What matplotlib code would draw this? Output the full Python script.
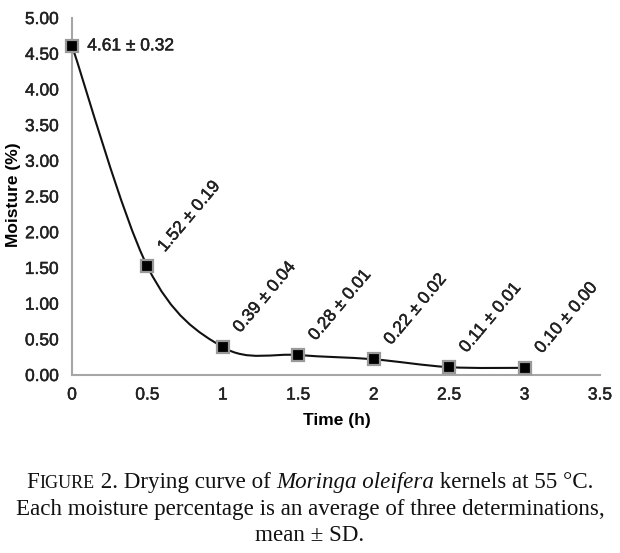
import numpy as np
import matplotlib
matplotlib.use("Agg")
import matplotlib.pyplot as plt
from matplotlib.path import Path
from matplotlib.patches import PathPatch
from matplotlib.font_manager import FontProperties
import matplotlib.patheffects as pe

# ---- data ----
time_h = [0, 0.5, 1, 1.5, 2, 2.5, 3]
moisture = [4.61, 1.52, 0.39, 0.28, 0.22, 0.11, 0.10]
sd = [0.32, 0.19, 0.04, 0.01, 0.02, 0.01, 0.00]
x_ticks = [0, 0.5, 1, 1.5, 2, 2.5, 3, 3.5]
x_tick_labels = ["0", "0.5", "1", "1.5", "2", "2.5", "3", "3.5"]
y_ticks = [0, 0.5, 1, 1.5, 2, 2.5, 3, 3.5, 4, 4.5, 5]
y_tick_labels = ["%.2f" % v for v in y_ticks]

W, H = 620, 553
fig = plt.figure(figsize=(W / 100, H / 100), dpi=100)
ax = fig.add_axes([72 / W, 178 / H, 528 / W, 357 / H])

ax.set_xlim(0, 3.5)
ax.set_ylim(0, 5)

heavy = [pe.withStroke(linewidth=0.35, foreground="#222222")]

# smoothed (Catmull-Rom style bezier, like spreadsheet smoothing)
P = np.column_stack([time_h, moisture])
n = len(P)
verts = [tuple(P[0])]
codes = [Path.MOVETO]
for i in range(n - 1):
    p0 = P[i - 1] if i > 0 else P[i]
    p1 = P[i]
    p2 = P[i + 1]
    p3 = P[i + 2] if i + 2 < n else P[i + 1]
    c1 = p1 + (p2 - p0) / 6.0
    c2 = p2 - (p3 - p1) / 6.0
    verts += [tuple(c1), tuple(c2), tuple(p2)]
    codes += [Path.CURVE4] * 3
ax.add_patch(PathPatch(Path(verts, codes), facecolor="none", edgecolor="#111111",
                       lw=1.5, zorder=2, clip_on=False))

ax.plot(time_h, moisture, linestyle="none", marker="s", markersize=8.5,
        markerfacecolor="black", markeredgecolor="#999999", markeredgewidth=1.6,
        zorder=3, clip_on=False)

lab_font = dict(family="Liberation Sans", fontsize=12.5, color="#222222")
for i, (x, y, s) in enumerate(zip(time_h, moisture, sd)):
    txt = "%.2f \u00b1 %.2f" % (y, s)
    if i == 0:
        ax.annotate(txt, (x, y), xytext=(11, 0), textcoords="offset points",
                    ha="left", va="center", path_effects=heavy, **lab_font)
    else:
        ax.annotate(txt, (x, y), xytext=(10, 12), textcoords="offset points",
                    ha="left", va="center", rotation=50, rotation_mode="anchor",
                    path_effects=heavy, **lab_font)

for side in ["top", "right"]:
    ax.spines[side].set_visible(False)
for side in ["left", "bottom"]:
    ax.spines[side].set_color("#a6a6a6")
    ax.spines[side].set_linewidth(1.5)
ax.set_xticks(x_ticks)
ax.set_xticklabels(x_tick_labels)
ax.set_yticks(y_ticks)
ax.set_yticklabels(y_tick_labels)
ax.tick_params(length=0, labelsize=12.5, colors="#222222")
ax.tick_params(axis="y", pad=9.5)
ax.tick_params(axis="x", pad=9)
for t in ax.get_xticklabels() + ax.get_yticklabels():
    t.set_family("Liberation Sans")
    t.set_path_effects(heavy)

fig.text(14 / W, 1 - 195 / H, "Moisture (%)", rotation=90, ha="center", va="center",
         family="Liberation Sans", fontsize=12.5, fontweight="bold", color="#000000")
fig.text(337 / W, 1 - 421 / H, "Time (h)", ha="center", va="center",
         family="Liberation Sans", fontsize=12.5, fontweight="bold", color="#000000")

# ---- caption ----
fig.canvas.draw()
r = fig.canvas.get_renderer()

def width(s, prop):
    wx = r.get_text_width_height_descent("x" + s + "x", prop, ismath=False)[0]
    w2 = r.get_text_width_height_descent("xx", prop, ismath=False)[0]
    return wx - w2

cap_size = 16.6
serif = "Liberation Serif"
line1 = [("F", cap_size, "normal"), ("IGURE", cap_size * 0.78, "normal"),
         (" 2. Drying curve of ", cap_size, "normal"), ("Moringa oleifera", cap_size, "italic"),
         (" kernels at 55 \u00b0C.", cap_size, "normal")]
props = [FontProperties(family=serif, size=sz, style=st) for _, sz, st in line1]
widths = [width(s, p) for (s, _, _), p in zip(line1, props)]
total = sum(widths)
xpix = W / 2 - total / 2
for (s, sz, st), p, w in zip(line1, props, widths):
    fig.text(xpix / W, 1 - 488 / H, s, ha="left", va="baseline", fontproperties=p, color="#111111")
    xpix += w
fig.text(0.5, 1 - 515 / H, "Each moisture percentage is an average of three determinations,",
         ha="center", va="baseline", family=serif, fontsize=cap_size, color="#111111")
fig.text(0.5, 1 - 541 / H, "mean \u00b1 SD.",
         ha="center", va="baseline", family=serif, fontsize=cap_size, color="#111111")

fig.savefig("out.png", dpi=100)
